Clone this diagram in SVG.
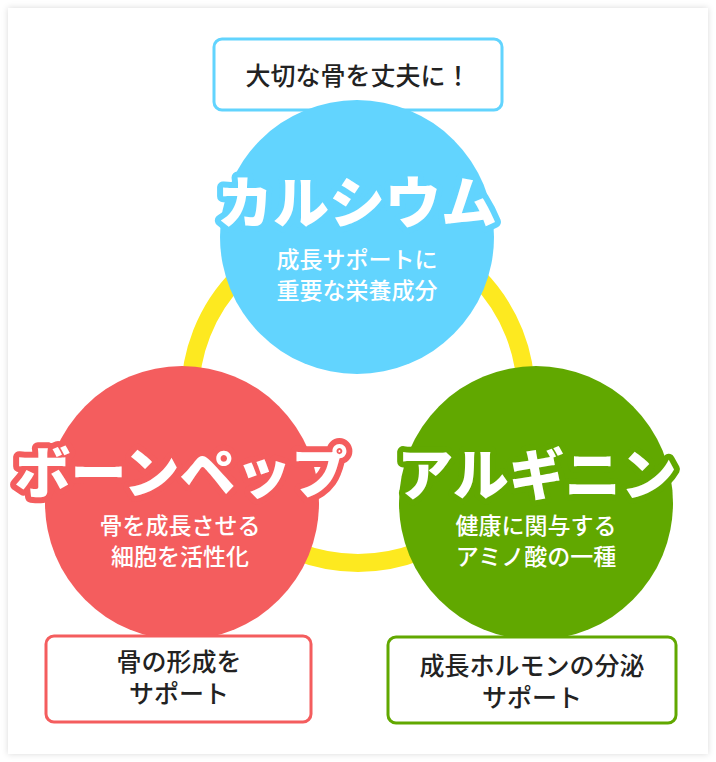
<svg xmlns="http://www.w3.org/2000/svg" width="716" height="762" viewBox="0 0 716 762">
<defs>
<filter id="sh" x="-5%" y="-5%" width="110%" height="110%"><feDropShadow dx="0" dy="0" stdDeviation="3" flood-color="#000" flood-opacity="0.15"/></filter>
</defs>
<style>
.t{font-family:"Noto Sans CJK JP","Noto Sans",sans-serif;text-anchor:middle}
.big{font-size:56px;font-weight:900;fill:#fff;stroke-width:12px;stroke-linejoin:round;paint-order:stroke}
.sub{font-size:23px;font-weight:500;fill:#fff}
.box{fill:#fff;stroke-width:3}
.bt{font-size:25px;font-weight:500;fill:#222}
</style>
<rect x="8" y="8" width="700" height="746" fill="#fff" filter="url(#sh)"/>
<g id="connectors"><circle cx="358" cy="395" r="168" fill="none" stroke="#fde920" stroke-width="18"/></g>
<g id="calcium">
<rect class="box" x="214" y="39" width="288" height="71" rx="8" stroke="#62d4fe"/>
<text class="t bt" x="358" y="85">大切な骨を丈夫に！</text>
<circle cx="357" cy="237" r="137" fill="#62d4fe"/>
<text class="t big" x="357" y="223" stroke="#62d4fe">カルシウム</text>
<text class="t sub" x="357" y="268">成長サポートに</text>
<text class="t sub" x="357" y="299">重要な栄養成分</text>
</g>
<g id="bonepep">
<circle cx="182" cy="503" r="137" fill="#f45d5e"/>
<text class="t big" x="181" y="493" stroke="#f45d5e">ボーンペップ</text>
<text class="t sub" x="180" y="534">骨を成長させる</text>
<text class="t sub" x="180" y="565">細胞を活性化</text>
<rect class="box" x="46" y="636" width="265" height="86" rx="8" stroke="#f45d5e"/>
<text class="t bt" x="179" y="671">骨の形成を</text>
<text class="t bt" x="179" y="703">サポート</text>
</g>
<g id="arginine">
<circle cx="536" cy="503" r="137" fill="#61a800"/>
<text class="t big" x="537" y="495" stroke="#61a800">アルギニン</text>
<text class="t sub" x="536" y="534">健康に関与する</text>
<text class="t sub" x="536" y="565">アミノ酸の一種</text>
<rect class="box" x="388" y="637" width="288" height="86" rx="8" stroke="#61a800"/>
<text class="t bt" x="532" y="675">成長ホルモンの分泌</text>
<text class="t bt" x="532" y="707">サポート</text>
</g>
</svg>
